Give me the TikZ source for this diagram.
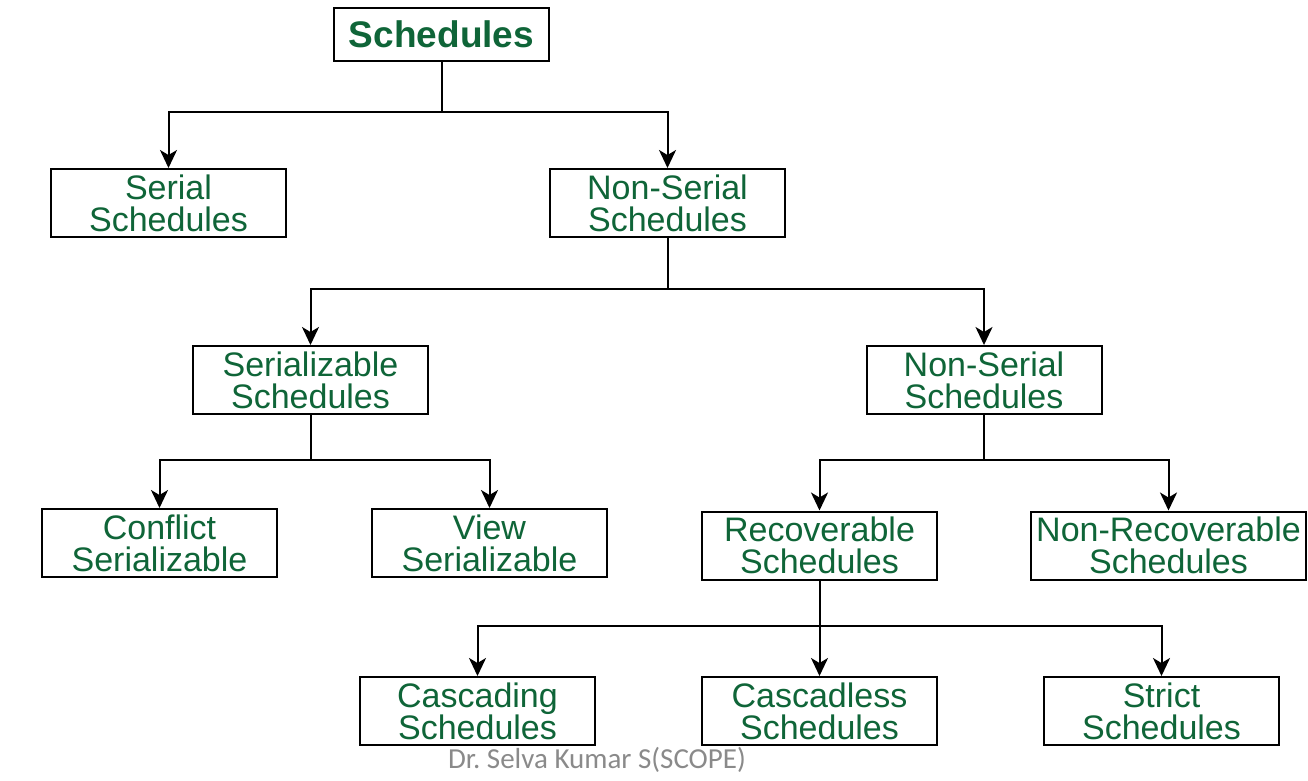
\documentclass[tikz,border=0pt]{standalone}
\usepackage{fontspec}
\setmainfont{Liberation Sans}
\newfontfamily\footfont{Carlito}
\usetikzlibrary{arrows.meta}
\definecolor{boxtext}{HTML}{0F6538}
\definecolor{footgray}{HTML}{8A8A8A}
\begin{document}
\begin{tikzpicture}[x=1pt,y=-1pt,
  schedbox/.style={draw=black, line width=2pt, fill=white, text=boxtext,
    minimum width=235pt, minimum height=68pt, inner sep=0pt, align=center,
    font=\fontsize{34}{32}\selectfont},
  link/.style={line width=2pt, draw=black},
  arrowlink/.style={link, -{Stealth[length=18pt,width=17pt,inset=5pt]}}]
\useasboundingbox (0,0) rectangle (1308,780);

% boxes
\node[schedbox, minimum width=215pt, minimum height=53pt,
  font=\fontsize{37}{37}\selectfont\bfseries] (root) at (441.5,34.5) {Schedules};
\node[schedbox] (serial) at (168.5,203) {Serial\\Schedules};
\node[schedbox] (nonserial) at (667.5,203) {Non-Serial\\Schedules};
\node[schedbox] (serializable) at (310.5,380) {Serializable\\Schedules};
\node[schedbox] (nonserialb) at (984,380) {Non-Serial\\Schedules};
\node[schedbox] (conflict) at (159.5,543) {Conflict\\Serializable};
\node[schedbox] (view) at (489.5,543) {View\\Serializable};
\node[schedbox] (recov) at (819.5,545.5) {Recoverable\\Schedules};
\node[schedbox, minimum width=275pt] (nonrecov) at (1168.5,545.5) {Non-Recoverable\\Schedules};
\node[schedbox] (cascading) at (477.5,711) {Cascading\\Schedules};
\node[schedbox] (cascadless) at (819.5,711) {Cascadless\\Schedules};
\node[schedbox] (strict) at (1161.5,711) {Strict\\Schedules};

% branch points
\coordinate (j1) at (441.5,112);
\coordinate (j2) at (667.5,289);
\coordinate (j3) at (310.5,460);
\coordinate (j4) at (984,460);
\coordinate (j5) at (819.5,626);

% connectors
\draw[link] (root.south) -- (j1);
\draw[arrowlink] (j1) -| (serial.north);
\draw[arrowlink] (j1) -| (nonserial.north);

\draw[link] (nonserial.south) -- (j2);
\draw[arrowlink] (j2) -| (serializable.north);
\draw[arrowlink] (j2) -| (nonserialb.north);

\draw[link] (serializable.south) -- (j3);
\draw[arrowlink] (j3) -| (conflict.north);
\draw[arrowlink] (j3) -| (view.north);

\draw[link] (nonserialb.south) -- (j4);
\draw[arrowlink] (j4) -| (recov.north);
\draw[arrowlink] (j4) -| (nonrecov.north);

\draw[link] (recov.south) -- (j5);
\draw[arrowlink] (j5) -| (cascading.north);
\draw[arrowlink] (j5) -- (cascadless.north);
\draw[arrowlink] (j5) -| (strict.north);

% footer
\node[text=footgray, font=\footfont\fontsize{29}{29}\selectfont, inner sep=0pt]
  (author) at (597,760) {Dr.\ Selva Kumar S(SCOPE)};
\end{tikzpicture}
\end{document}
